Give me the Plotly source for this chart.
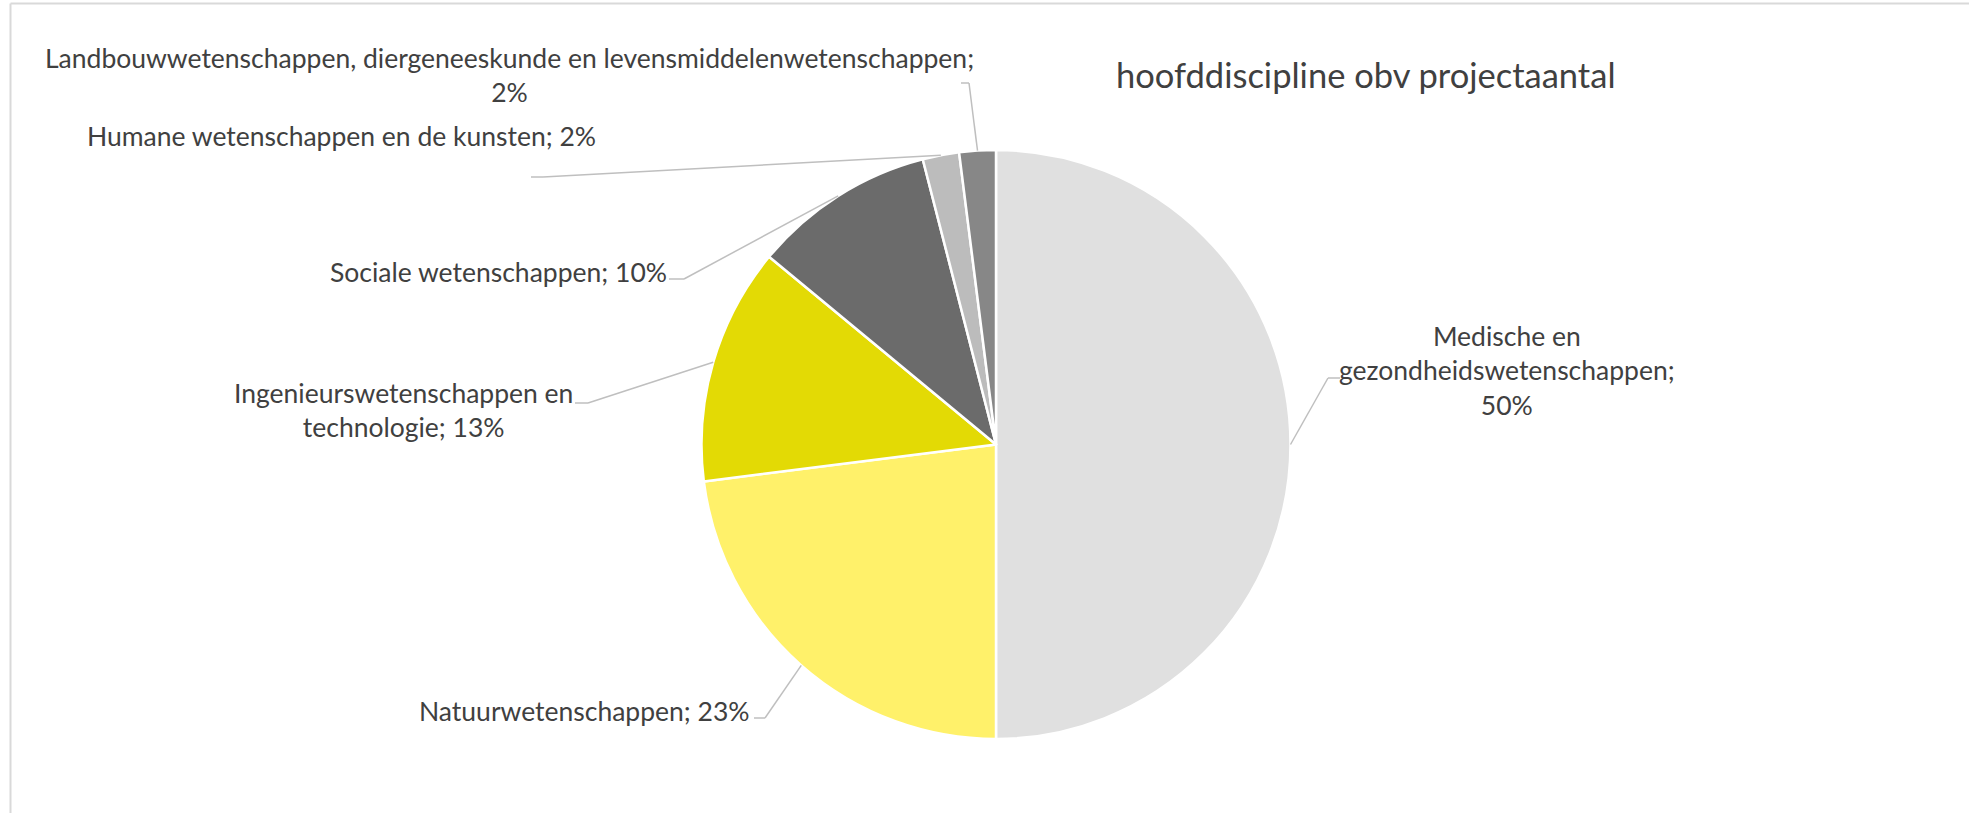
import math
import textwrap
import plotly.graph_objects as go

# ---- data -------------------------------------------------------------
categories = [
    "Medische en gezondheidswetenschappen",
    "Natuurwetenschappen",
    "Ingenieurswetenschappen en technologie",
    "Sociale wetenschappen",
    "Humane wetenschappen en de kunsten",
    "Landbouwwetenschappen, diergeneeskunde en levensmiddelenwetenschappen",
]
shares = [50, 23, 13, 10, 2, 2]
title_text = "hoofddiscipline obv projectaantal"

# ---- styling / layout -------------------------------------------------
W, H = 1969, 813
colors = ["#E0E0E0", "#FFF16A", "#E3DA05", "#6B6B6B", "#BCBCBC", "#878787"]
FONT = "Lato"
TEXT_COLOR = "#404040"
LEADER_COLOR = "#BFBFBF"

# pie centre and radius in pixels
CX, CY, R = 996.0, 444.5, 294.5

# per-label wrap width (characters), label block centre and leader elbow (pixels)
wrap_width = [25, 100, 26, 100, 100, 70]
label_pos = [(1507, 370), (584, 711), (403, 410), (498, 272), (341, 136), (509, 75)]
elbow_pos = [(1328, 378), (765, 718), (588, 403), (684, 279), (543, 177), (969, 83)]
elbow_tail = [12, -11, -13, -15, -12, -8]


def px(x):
    return x / W


def py(y):
    return 1 - y / H


fig = go.Figure()
fig.add_trace(
    go.Pie(
        labels=categories,
        values=shares,
        sort=False,
        direction="clockwise",
        rotation=0,
        marker=dict(colors=colors, line=dict(color="white", width=2.5)),
        textinfo="none",
        hoverinfo="label+percent",
        domain=dict(x=[px(CX - R), px(CX + R)], y=[py(CY + R), py(CY - R)]),
        showlegend=False,
    )
)

shapes = []
annotations = []
total = sum(shares)
cum = 0.0
for i, (cat, v) in enumerate(zip(categories, shares)):
    mid = (cum + v / 2) / total * 2 * math.pi
    cum += v
    sx = CX + R * math.sin(mid)
    sy = CY - R * math.cos(mid)
    ex, ey = elbow_pos[i]
    shapes.append(dict(type="line", xref="paper", yref="paper",
                       x0=px(sx), y0=py(sy), x1=px(ex), y1=py(ey),
                       line=dict(color=LEADER_COLOR, width=1.5)))
    shapes.append(dict(type="line", xref="paper", yref="paper",
                       x0=px(ex), y0=py(ey), x1=px(ex + elbow_tail[i]), y1=py(ey),
                       line=dict(color=LEADER_COLOR, width=1.5)))
    text = "<br>".join(textwrap.wrap(f"{cat}; {v}%", wrap_width[i]))
    lx, ly = label_pos[i]
    annotations.append(dict(x=px(lx), y=py(ly), xref="paper", yref="paper",
                            text=text, showarrow=False, align="center",
                            xanchor="center", yanchor="middle",
                            font=dict(family=FONT, size=26.5, color=TEXT_COLOR)))

annotations.append(dict(x=px(1366), y=py(75), xref="paper", yref="paper",
                        text=title_text, showarrow=False,
                        xanchor="center", yanchor="middle",
                        font=dict(family=FONT, size=34.5, color=TEXT_COLOR)))

# chart-area frame (top and left edges)
frame = dict(color="#D9D9D9", width=2)
shapes.append(dict(type="line", xref="paper", yref="paper",
                   x0=px(10.5), y0=py(3.5), x1=1, y1=py(3.5), line=frame))
shapes.append(dict(type="line", xref="paper", yref="paper",
                   x0=px(10.5), y0=py(3.5), x1=px(10.5), y1=0, line=frame))

fig.update_layout(
    width=W, height=H,
    margin=dict(l=0, r=0, t=0, b=0),
    paper_bgcolor="white", plot_bgcolor="white",
    shapes=shapes, annotations=annotations,
)

fig.write_html("out.html")
